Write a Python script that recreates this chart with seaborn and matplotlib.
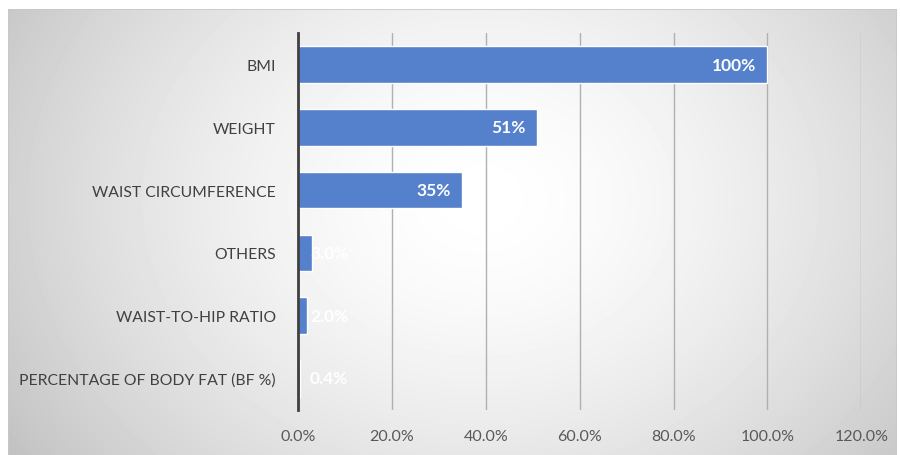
import numpy as np
import pandas as pd
import seaborn as sns
import matplotlib.pyplot as plt
from matplotlib.patches import Rectangle

# Data
categories = ["BMI", "WEIGHT", "WAIST CIRCUMFERENCE", "OTHERS",
              "WAIST-TO-HIP RATIO", "PERCENTAGE OF BODY FAT (BF %)"]
values = [100, 51, 35, 3.0, 2.0, 0.4]
value_labels = ["100%", "51%", "35%", "3.0%", "2.0%", "0.4%"]
x_ticks = [0, 20, 40, 60, 80, 100, 120]

df = pd.DataFrame({"category": categories, "pct": values})

sns.set_style("white")
plt.rcParams["font.family"] = ["Lato", "DejaVu Sans"]

fig = plt.figure(figsize=(9, 4.56), dpi=100)

# background panel with soft radial gradient
bg = fig.add_axes([0, 0, 1, 1], zorder=0)
bg.set_axis_off()
yy, xx = np.mgrid[0:456, 0:900]
r = np.sqrt(((xx - 480) / 520.0) ** 2 + ((yy - 200) / 420.0) ** 2)
shade = np.clip(1.0 - 0.21 * r ** 1.6, 0, 1)
bg.imshow(shade, cmap="gray", vmin=0, vmax=1, extent=[0, 900, 456, 0], aspect="auto")
bg.add_patch(Rectangle((8, 10), 889, 460, fill=False, edgecolor="#c8c8c8", lw=1.2))
# white margin outside the panel
bg.add_patch(Rectangle((0, 0), 900, 10, color="white", lw=0))
bg.add_patch(Rectangle((0, 0), 8, 456, color="white", lw=0))
bg.add_patch(Rectangle((897, 0), 3, 456, color="white", lw=0))
bg.set_xlim(0, 900)
bg.set_ylim(456, 0)

ax = fig.add_axes([0.331, 0.099, 0.626, 0.826], zorder=1)
ax.patch.set_alpha(0)
sns.barplot(data=df, x="pct", y="category", orient="h", color="#5580CB",
            width=0.58, saturation=1, ax=ax)

ax.set_xlim(0, 120)
ax.set_ylim(5.5, -0.5)
ax.set_xticks(x_ticks)
ax.set_xticklabels([f"{t:.1f}%" for t in x_ticks], fontsize=11.5, color="#595959")
ax.tick_params(axis="x", length=0, pad=14)
ax.tick_params(axis="y", length=0, pad=16, labelsize=11.3, labelcolor="#404040")
ax.set_xlabel("")
ax.set_ylabel("")
ax.grid(axis="x", color="#b0b0b0", lw=1)
ax.set_axisbelow(True)
for s in ["top", "right", "bottom"]:
    ax.spines[s].set_visible(False)
ax.spines["left"].set_color("#404040")
ax.spines["left"].set_linewidth(2)

for i, (v, lab) in enumerate(zip(values, value_labels)):
    if v > 10:
        ax.text(v - 2.5, i, lab, ha="right", va="center", color="white",
                fontsize=12.5, fontweight="bold")
    else:
        ax.text(2.6, i, lab, ha="left", va="center", color="white",
                fontsize=12.5, fontweight="bold")

fig.savefig("out.png", dpi=100)
